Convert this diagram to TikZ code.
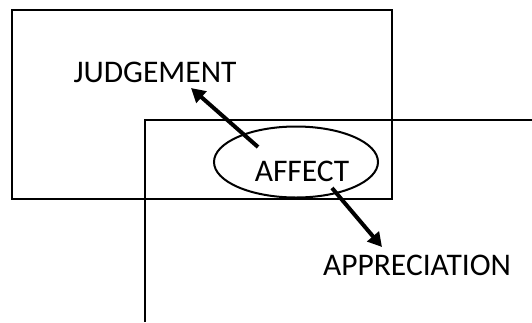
\documentclass[tikz,border=0pt]{standalone}
\usepackage{fontspec}
\setmainfont{Carlito}
\usetikzlibrary{arrows.meta,shapes.geometric}
\tikzset{
  frame/.style={draw=black, line width=2pt},
  label/.style={inner sep=0pt, anchor=base, font=\fontsize{31.5}{36}\selectfont},
  link/.style={line width=4pt, -{Triangle[length=14pt,width=15pt]}},
}
\begin{document}
\begin{tikzpicture}[x=1pt,y=-1pt]
  \useasboundingbox (0,0) rectangle (532,322);
  % outer box and the open frame it overlaps
  \draw[frame] (12,10) rectangle (392,199);
  \draw[frame] (145,322) -- (145,120) -- (532,120);
  % central ellipse and its labels
  \node[frame, ellipse, minimum width=164pt, minimum height=71pt, inner sep=0pt] (ring) at (296,162) {};
  \node[label] (affect) at (302,181.7) {AFFECT};
  \node[label] (judgement) at (155,82.3) {JUDGEMENT};
  \node[label] (appreciation) at (417,275) {APPRECIATION};
  % arrow end points
  \coordinate (jtail) at (258,147);
  \coordinate (jtip) at (191,88);
  \coordinate (atail) at (332,188);
  \coordinate (atip) at (382,247);
  \draw[link] (jtail) -- (jtip);
  \draw[link] (atail) -- (atip);
\end{tikzpicture}
\end{document}
